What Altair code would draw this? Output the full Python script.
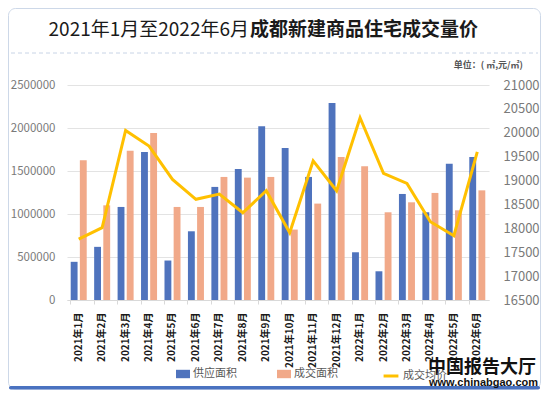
import altair as alt
import pandas as pd

months = ["2021年1月", "2021年2月", "2021年3月", "2021年4月", "2021年5月", "2021年6月",
          "2021年7月", "2021年8月", "2021年9月", "2021年10月", "2021年11月", "2021年12月",
          "2022年1月", "2022年2月", "2022年3月", "2022年4月", "2022年5月", "2022年6月"]
supply = [444000, 618000, 1082000, 1721000, 459000, 799000, 1315000, 1524000, 2019000,
          1768000, 1431000, 2290000, 555000, 334000, 1233000, 1020000, 1585000, 1663000]
deal = [1624000, 1101000, 1736000, 1942000, 1082000, 1082000, 1431000, 1423000, 1431000,
        819000, 1121000, 1663000, 1554000, 1020000, 1136000, 1245000, 1043000, 1275000]
price = [17776, 18013, 20050, 19722, 19025, 18607, 18718, 18326, 18787,
         17908, 19414, 18787, 20314, 19150, 18941, 18138, 17845, 19600]
series_names = ["供应面积", "成交面积", "成交均价"]
left_ticks = [0, 500000, 1000000, 1500000, 2000000, 2500000]
right_ticks = [16500, 17000, 17500, 18000, 18500, 19000, 19500, 20000, 20500, 21000]

BLUE = "#4f73bd"
ORANGE = "#f1a989"
GOLD = "#ffc000"
FONT = "Noto Sans CJK SC"

bars_df = pd.DataFrame({
    "month": months * 2,
    "series": [series_names[0]] * len(months) + [series_names[1]] * len(months),
    "value": supply + deal,
})
line_df = pd.DataFrame({"month": months, "price": price, "series": series_names[2]})
one = pd.DataFrame({"k": [0]})

x_enc = alt.X("month:N", sort=months, title=None,
              scale=alt.Scale(paddingInner=0.317, paddingOuter=0.158),
              axis=alt.Axis(labelAngle=-90, labelFontSize=10, labelFontWeight="bold",
                            labelColor="#1a1a1a", labelPadding=8, domainColor="#d9d9d9",
                            tickColor="#d9d9d9", tickSize=4, bandPosition=0, labelFont=FONT))

bars = alt.Chart(bars_df).mark_bar().encode(
    x=x_enc,
    xOffset=alt.XOffset("series:N", sort=series_names[:2],
                        scale=alt.Scale(paddingInner=0.25, paddingOuter=0)),
    y=alt.Y("value:Q", title=None, scale=alt.Scale(domain=[0, 2500000], nice=False),
            axis=alt.Axis(values=left_ticks, format="d", grid=True, gridColor="#e3e3e3",
                          domain=False, ticks=False, labelPadding=12, labelFontSize=11.5,
                          labelColor="#7a7a7a", labelFont=FONT)),
    color=alt.Color("series:N",
                    scale=alt.Scale(domain=series_names[:2], range=[BLUE, ORANGE]),
                    legend=alt.Legend(orient="none", legendX=109, legendY=282,
                                      direction="horizontal", title=None,
                                      symbolType="M-1,-0.6L1,-0.6L1,0.6L-1,0.6Z",
                                      symbolSize=196, labelFontSize=11, labelColor="#595959",
                                      labelFont=FONT, columnPadding=40, labelOffset=3,
                                      padding=0, symbolStrokeWidth=0)),
)

line = alt.Chart(line_df).mark_line(strokeWidth=3).encode(
    x=alt.X("month:N", sort=months),
    y=alt.Y("price:Q", title=None, scale=alt.Scale(domain=[16500, 21000], nice=False),
            axis=alt.Axis(orient="right", values=right_ticks, format="d", grid=False,
                          domain=False, ticks=False, labelPadding=14, labelFontSize=13,
                          labelColor="#7a7a7a", labelFont=FONT)),
    stroke=alt.Stroke("series:N", scale=alt.Scale(domain=[series_names[2]], range=[GOLD]),
                      legend=alt.Legend(orient="none", legendX=315, legendY=282, title=None,
                                        symbolType="stroke", symbolStrokeWidth=3,
                                        symbolSize=220, labelFontSize=11,
                                        labelColor="#595959", labelFont=FONT, padding=0,
                                        labelOffset=3)),
)

frame = alt.Chart(one).mark_rect(fillOpacity=0, stroke="#cdd8e8", strokeWidth=1,
                                 cornerRadius=7).encode(
    x=alt.value(-58.5), x2=alt.value(473.5), y=alt.value(-76.5), y2=alt.value(304))
strip = alt.Chart(one).mark_rect(fill="#4a72c0", cornerRadius=2).encode(
    x=alt.value(-58), x2=alt.value(473), y=alt.value(301), y2=alt.value(304.5))
sep = alt.Chart(one).mark_rule(strokeDash=[4, 3], color="#c8d4e6", strokeWidth=1).encode(
    x=alt.value(-56), x2=alt.value(471), y=alt.value(-32))

title_a = alt.Chart(one).mark_text(text="2021年1月至2022年6月", align="right",
                                   baseline="middle", fontSize=19, font=FONT,
                                   color="#1a1a1a").encode(x=alt.value(182), y=alt.value(-55))
title_b = alt.Chart(one).mark_text(text="成都新建商品住宅成交量价", align="left",
                                   baseline="middle", fontSize=19, font=FONT,
                                   fontWeight="bold", color="#1a1a1a").encode(
    x=alt.value(183), y=alt.value(-55))
unit = alt.Chart(one).mark_text(text="单位：( ㎡,元/㎡)", align="right", baseline="middle",
                                fontSize=9, font=FONT, fontWeight="bold",
                                color="#555555").encode(x=alt.value(456), y=alt.value(-20))
logo_a = alt.Chart(one).mark_text(text="中国报告大厅", align="left", baseline="middle",
                                  fontSize=18, font=FONT, fontWeight="bold",
                                  color="#111111").encode(x=alt.value(361), y=alt.value(283))
logo_b = alt.Chart(one).mark_text(text="www.chinabgao.com", align="left", baseline="middle",
                                  fontSize=11, font="Liberation Sans", fontWeight="bold",
                                  color="#111111").encode(x=alt.value(362), y=alt.value(298))

chart = alt.layer(
    frame, strip, sep, bars, line, title_a, title_b, unit, logo_a, logo_b
).resolve_scale(
    y="independent", color="independent", stroke="independent"
).properties(
    width=422, height=215,
    autosize=alt.AutoSizeParams(type="none"),
    padding={"left": 59, "top": 77, "right": 52, "bottom": 90},
    background="white",
).configure_view(stroke=None)

chart.save("out.html", embed_options={"renderer": "svg", "actions": False})
